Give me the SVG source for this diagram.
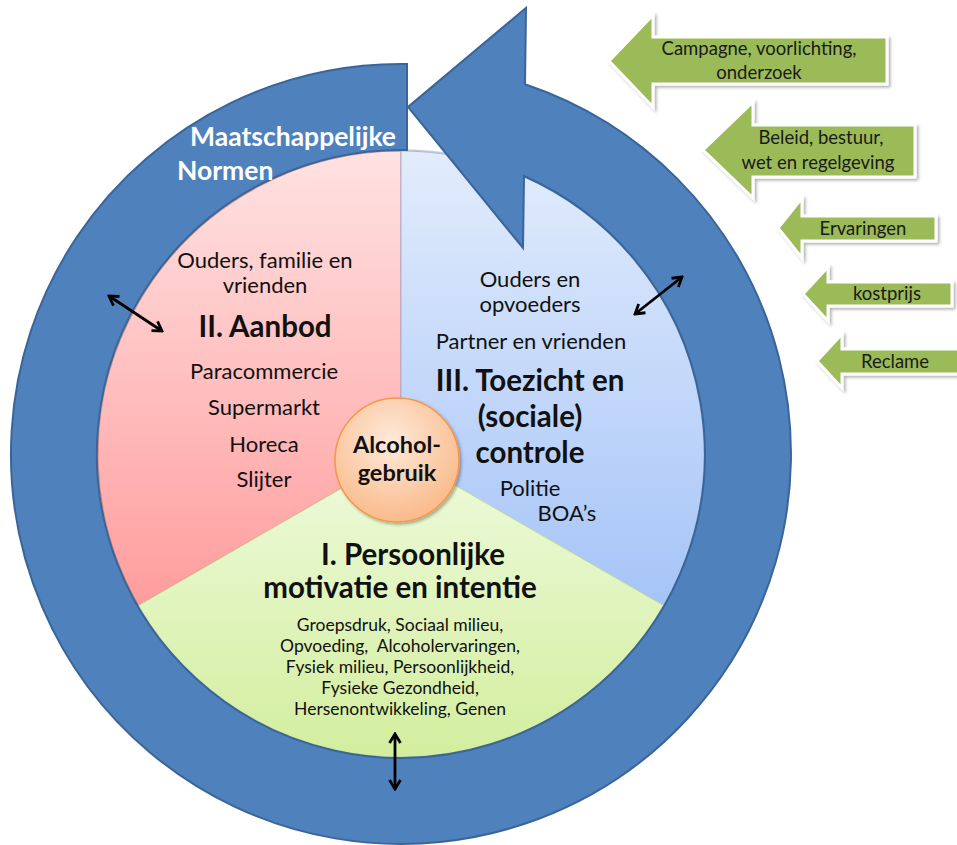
<svg xmlns="http://www.w3.org/2000/svg" width="957" height="845" viewBox="0 0 957 845">
  <defs>
    <linearGradient id="gRed" x1="0" y1="151" x2="0" y2="606" gradientUnits="userSpaceOnUse">
      <stop offset="0" stop-color="#FFE2E2"/>
      <stop offset="1" stop-color="#FF9D9D"/>
    </linearGradient>
    <linearGradient id="gBlue" x1="0" y1="151" x2="0" y2="606" gradientUnits="userSpaceOnUse">
      <stop offset="0" stop-color="#E2ECFC"/>
      <stop offset="1" stop-color="#A6C4F8"/>
    </linearGradient>
    <linearGradient id="gGreen" x1="0" y1="456" x2="0" y2="757" gradientUnits="userSpaceOnUse">
      <stop offset="0" stop-color="#EEFADC"/>
      <stop offset="1" stop-color="#D3EE9E"/>
    </linearGradient>
    <radialGradient id="gCore" cx="0.45" cy="0.35" r="0.7">
      <stop offset="0" stop-color="#FEEADB"/>
      <stop offset="1" stop-color="#F9B784"/>
    </radialGradient>
    <filter id="shadow" x="-10%" y="-10%" width="130%" height="140%">
      <feDropShadow dx="2" dy="2" stdDeviation="1.5" flood-color="#000" flood-opacity="0.3"/>
    </filter>
    <marker id="head" viewBox="0 0 14 14" refX="12" refY="7" markerWidth="14" markerHeight="14" markerUnits="userSpaceOnUse" orient="auto-start-reverse">
      <path d="M3,1.5 L12,7 L3,12.5" fill="none" stroke="#000" stroke-width="2.8" stroke-linejoin="miter"/>
    </marker>
    <style>
      .txt { font-family: Lato, "Open Sans", "Liberation Sans", sans-serif; fill: #111; text-anchor: middle; }
      .body { font-size: 22px; }
      .head { font-size: 29.5px; font-weight: bold; }
      .small { font-size: 17.5px; }
      .lbl { font-family: Lato, "Open Sans", "Liberation Sans", sans-serif; fill: #1a1a1a; text-anchor: middle; font-size: 18.5px; }
      .norm { font-family: Lato, "Open Sans", "Liberation Sans", sans-serif; fill: #ffffff; font-size: 26.5px; font-weight: bold; }
      .garrow { fill: #9BBB59; stroke: #ffffff; stroke-width: 3; stroke-linejoin: miter; filter: url(#shadow); }
      .dbl { fill: none; stroke: #000; stroke-width: 2.8; marker-start: url(#head); marker-end: url(#head); }
    </style>
  </defs>

  <rect width="957" height="845" fill="#ffffff"/>

  <!-- Inner pie -->
  <g id="pie">
    <circle cx="401" cy="454" r="304" fill="#ffffff" stroke="#C8CCD4" stroke-width="1.5"/>
    <g id="sector-aanbod">
      <path d="M401,454 L401,151 A303,303 0 0 0 138.6,605.5 Z" fill="url(#gRed)" stroke="#C0504D" stroke-opacity="0.55" stroke-width="1.2"/>
    </g>
    <g id="sector-toezicht">
      <path d="M401,454 L401,151 A303,303 0 0 1 663.4,605.5 Z" fill="url(#gBlue)" stroke="#9DB8E0" stroke-width="1"/>
    </g>
    <g id="sector-motivatie">
      <path d="M401,454 L663.4,605.5 A303,303 0 0 1 138.6,605.5 Z" fill="url(#gGreen)" stroke="#C6DC9E" stroke-width="1"/>
    </g>
  </g>

  <!-- Circular arrow ring -->
  <g id="ring-normen">
    <path d="M407,64 A390,390 0 1 0 525,84.2 L526,8 L408,107 L523,248 L524,176 A304,304 0 1 1 407,150 Z" fill="#4F81BD" stroke="#3A6598" stroke-width="2" stroke-linejoin="miter"/>
    <text class="norm" x="190" y="146">Maatschappelijke</text>
    <text class="norm" x="177" y="180">Normen</text>
  </g>

  <!-- Sector texts -->
  <g id="text-aanbod" class="txt">
    <text class="body" x="265" y="268">Ouders, familie en</text>
    <text class="body" x="265" y="293">vrienden</text>
    <text class="head" x="265" y="337">II. Aanbod</text>
    <text class="body" x="264" y="379">Paracommercie</text>
    <text class="body" x="264" y="415">Supermarkt</text>
    <text class="body" x="264" y="452">Horeca</text>
    <text class="body" x="264" y="487">Slijter</text>
  </g>

  <g id="text-toezicht" class="txt">
    <text class="body" x="530" y="287">Ouders en</text>
    <text class="body" x="530" y="312">opvoeders</text>
    <text class="body" x="531" y="349">Partner en vrienden</text>
    <text class="head" x="530" y="391">III. Toezicht en</text>
    <text class="head" x="530" y="427">(sociale)</text>
    <text class="head" x="530" y="463">controle</text>
    <text class="body" x="530" y="496">Politie</text>
    <text class="body" x="567" y="521">BOA’s</text>
  </g>

  <g id="text-motivatie" class="txt">
    <text class="head" x="413" y="565">I. Persoonlijke</text>
    <text class="head" x="400" y="598">motivatie en intentie</text>
    <text class="small" x="400" y="631">Groepsdruk, Sociaal milieu,</text>
    <text class="small" x="400" y="652" xml:space="preserve">Opvoeding,  Alcoholervaringen,</text>
    <text class="small" x="400" y="673">Fysiek milieu, Persoonlijkheid,</text>
    <text class="small" x="400" y="694">Fysieke Gezondheid,</text>
    <text class="small" x="400" y="715">Hersenontwikkeling, Genen</text>
  </g>

  <!-- Centre -->
  <g id="alcoholgebruik">
    <circle cx="397" cy="460" r="62" fill="url(#gCore)" stroke="#F79646" stroke-width="1.5" filter="url(#shadow)"/>
    <text class="txt" x="397" y="453" font-size="23.5" font-weight="bold">Alcohol-</text>
    <text class="txt" x="397" y="481" font-size="23.5" font-weight="bold">gebruik</text>
  </g>

  <!-- Green influence arrows -->
  <g id="arrow-campagne">
    <polygon class="garrow" points="609,61 653,15 653,37 887,37 887,84 653,84 653,107"/>
    <text class="lbl" x="759" y="55">Campagne, voorlichting,</text>
    <text class="lbl" x="759" y="79">onderzoek</text>
  </g>
  <g id="arrow-beleid">
    <polygon class="garrow" points="703,150 753,102 753,125 915,125 915,177 753,177 753,198"/>
    <text class="lbl" x="821" y="144">Beleid, bestuur,</text>
    <text class="lbl" x="818" y="169">wet en regelgeving</text>
  </g>
  <g id="arrow-ervaringen">
    <polygon class="garrow" points="778,228 802,198 802,216 936,216 936,241 802,241 802,258"/>
    <text class="lbl" x="863" y="235">Ervaringen</text>
  </g>
  <g id="arrow-kostprijs">
    <polygon class="garrow" points="803,294 828,267 828,282 952,282 952,306 828,306 828,321"/>
    <text class="lbl" x="887" y="300">kostprijs</text>
  </g>
  <g id="arrow-reclame">
    <polygon class="garrow" points="817,361 842,334 842,349 960,349 960,374 842,374 842,388"/>
    <text class="lbl" x="895" y="368">Reclame</text>
  </g>

  <!-- Double-headed connectors -->
  <g id="connectors">
    <line class="dbl" x1="109" y1="296" x2="162" y2="331"/>
    <line class="dbl" x1="635" y1="314" x2="682" y2="277"/>
    <line class="dbl" x1="395" y1="734" x2="395" y2="789"/>
  </g>
</svg>
